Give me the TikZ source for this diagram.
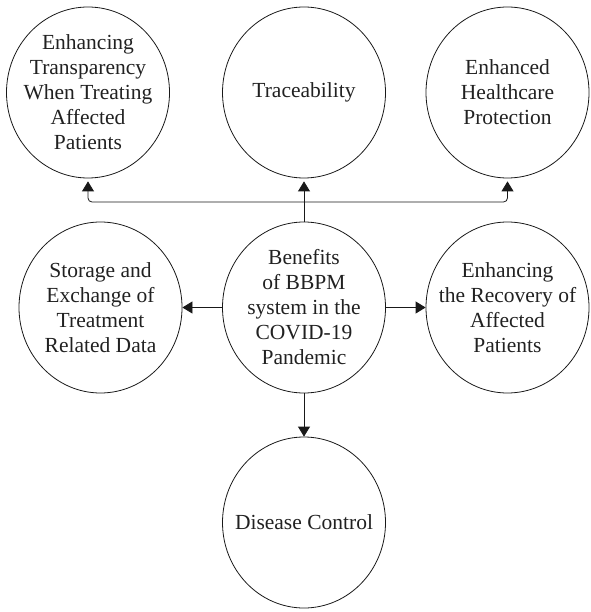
\documentclass[tikz,border=0pt]{standalone}
\usepackage{fontspec}
\setmainfont{Liberation Serif}
\usetikzlibrary{arrows.meta,shapes.geometric}

\begin{document}
\begin{tikzpicture}[x=1pt,y=-1pt,->,>={Triangle[length=10pt,width=12pt]},
      line width=0.8pt,draw=black!90,
      benefit/.style={ellipse,draw,minimum width=163pt,minimum height=171pt,
        inner sep=-40pt,align=center,text=black!87,
        font=\fontsize{21.5}{25}\selectfont}]
      \useasboundingbox (0,0) rectangle (590,612);

      % top row
      \node[benefit] (transp) at ( 88, 92.5) {Enhancing\\Transparency\\When Treating\\Affected\\Patients};
      \node[benefit] (trace)  at (304, 92.5) {Traceability};
      \node[benefit] (protect) at (507.5, 92.5) {Enhanced\\Healthcare\\Protection};

      % middle row
      \node[benefit] (storage) at (100.5, 307.5) {Storage and\\Exchange of\\Treatment\\Related Data};
      \node[benefit] (bbpm)    at (304, 307.5) {Benefits\\of BBPM\\system in the\\COVID-19\\Pandemic};
      \node[benefit] (recover) at (507.5, 307.5) {Enhancing\\the Recovery of\\Affected\\Patients};

      % bottom
      \node[benefit] (disease) at (304, 522.5) {Disease Control};

      \coordinate (hub) at (304, 202);

      \draw[shorten >=3pt] (bbpm) -- (trace);
      \draw[shorten >=3pt,rounded corners=4pt] (hub) -| (transp.south);
      \draw[shorten >=3pt,rounded corners=4pt] (hub) -| (protect.south);
      \draw (bbpm) -- (storage);
      \draw (bbpm) -- (recover);
      \draw (bbpm) -- (disease);
      \end{tikzpicture}
\end{document}
